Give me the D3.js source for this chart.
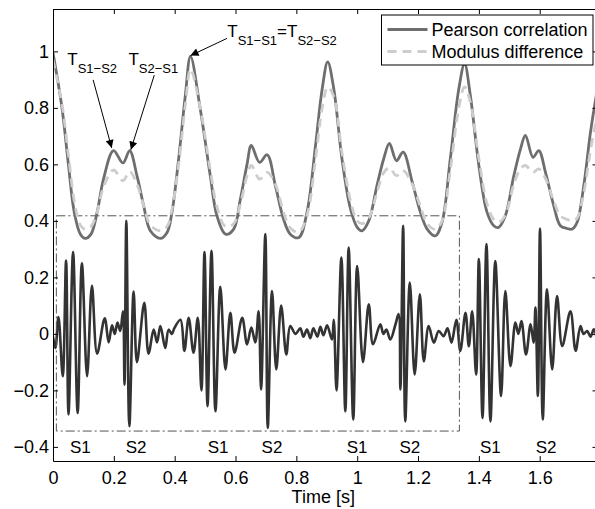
<!DOCTYPE html>
<html>
<head>
<meta charset="utf-8">
<script src="https://cdn.jsdelivr.net/npm/d3@7"></script>
<style>
  body { margin: 0; background: #fff; }
  svg { font-family: "Liberation Sans", Arial, sans-serif; }
</style>
</head>
<body>
<svg></svg>
<script>
// correlation curves, sampled where the shape changes
var curveTime = [0, 0.030, 0.051, 0.070, 0.090, 0.106, 0.125, 0.145, 0.166, 0.199, 0.230, 0.252, 0.276, 0.298,
  0.320, 0.353, 0.375, 0.391, 0.413, 0.435, 0.452, 0.484, 0.517, 0.539, 0.567, 0.594, 0.616, 0.638, 0.652,
  0.679, 0.704, 0.731, 0.758, 0.780, 0.808, 0.835, 0.863, 0.885, 0.903, 0.923, 0.950, 0.978, 1.000, 1.016,
  1.038, 1.065, 1.087, 1.106, 1.129, 1.151, 1.181, 1.208, 1.230, 1.257, 1.279, 1.306, 1.334, 1.353, 1.372,
  1.400, 1.427, 1.449, 1.465, 1.487, 1.515, 1.537, 1.553, 1.578, 1.597, 1.619, 1.646, 1.668, 1.690, 1.707,
  1.723, 1.745, 1.767, 1.790];
var pearson = [0.995, 0.796, 0.596, 0.43, 0.353, 0.338, 0.353, 0.43, 0.548, 0.649, 0.605, 0.649, 0.56, 0.454,
  0.365, 0.338, 0.359, 0.43, 0.619, 0.844, 0.982, 0.797, 0.56, 0.418, 0.353, 0.371, 0.477, 0.601, 0.667,
  0.607, 0.634, 0.525, 0.406, 0.353, 0.341, 0.43, 0.667, 0.868, 0.963, 0.868, 0.619, 0.442, 0.377, 0.365,
  0.40, 0.525, 0.619, 0.674, 0.613, 0.643, 0.537, 0.43, 0.371, 0.347, 0.395, 0.619, 0.867, 0.956, 0.844,
  0.596, 0.43, 0.383, 0.377, 0.418, 0.56, 0.655, 0.703, 0.625, 0.649, 0.572, 0.454, 0.383, 0.373, 0.371,
  0.395, 0.525, 0.714, 0.87];
var modulus = [0.97, 0.81, 0.63, 0.47, 0.385, 0.37, 0.38, 0.43, 0.52, 0.58, 0.542, 0.575, 0.53, 0.455,
  0.385, 0.365, 0.38, 0.44, 0.60, 0.81, 0.937, 0.80, 0.58, 0.45, 0.38, 0.39, 0.46, 0.56, 0.596,
  0.548, 0.572, 0.53, 0.43, 0.375, 0.36, 0.42, 0.62, 0.80, 0.874, 0.84, 0.64, 0.47, 0.40, 0.39,
  0.41, 0.50, 0.57, 0.588, 0.56, 0.578, 0.53, 0.45, 0.39, 0.37, 0.40, 0.58, 0.80, 0.874, 0.82,
  0.62, 0.46, 0.405, 0.395, 0.42, 0.53, 0.585, 0.596, 0.572, 0.584, 0.55, 0.47, 0.418, 0.405, 0.40,
  0.41, 0.50, 0.65, 0.78];

// heart sound signal, peaks and troughs
var sigTime = [0, 0.008, 0.018, 0.032, 0.043, 0.051, 0.066, 0.081, 0.095, 0.112, 0.128, 0.145, 0.170, 0.183,
  0.194, 0.203, 0.212, 0.221, 0.230, 0.235, 0.241, 0.251, 0.265, 0.276, 0.300, 0.314, 0.331, 0.342, 0.353,
  0.369, 0.380, 0.391, 0.399, 0.419, 0.432, 0.446, 0.462, 0.476, 0.488, 0.498, 0.508, 0.521, 0.534, 0.550,
  0.567, 0.583, 0.597, 0.622, 0.638, 0.652, 0.665, 0.676, 0.684, 0.698, 0.706, 0.720, 0.734, 0.750, 0.767,
  0.780, 0.797, 0.813, 0.823, 0.835, 0.846, 0.856, 0.869, 0.879, 0.889, 0.901, 0.917, 0.923, 0.932, 0.948,
  0.961, 0.972, 0.987, 1.000, 1.019, 1.038, 1.052, 1.076, 1.086, 1.096, 1.109, 1.126, 1.136, 1.142, 1.151,
  1.158, 1.173, 1.189, 1.206, 1.219, 1.235, 1.252, 1.268, 1.284, 1.297, 1.310, 1.326, 1.339, 1.356, 1.367,
  1.378, 1.391, 1.400, 1.412, 1.425, 1.438, 1.454, 1.473, 1.487, 1.504, 1.520, 1.530, 1.540, 1.555, 1.570,
  1.580, 1.586, 1.594, 1.601, 1.610, 1.624, 1.641, 1.657, 1.674, 1.701, 1.718, 1.734, 1.744, 1.756, 1.767,
  1.778, 1.790];
var sigValue = [-0.01, -0.05, 0.06, -0.15, 0.26, -0.285, 0.29, -0.28, 0.25, -0.15, 0.17, -0.07, 0.055, -0.03,
  0.03, 0.0, 0.04, 0.01, 0.08, -0.18, 0.40, -0.327, 0.15, -0.10, 0.11, -0.07, 0.015, -0.03, 0.028,
  -0.05, 0.015, 0.0, 0.02, 0.05, -0.06, 0.057, -0.067, 0.057, -0.2, 0.29, -0.256, 0.294, -0.274, 0.167,
  -0.126, 0.075, -0.067, 0.057, -0.037, 0.022, -0.03, 0.08, -0.197, 0.353, -0.333, 0.152, -0.126, 0.10, -0.073,
  0.028, 0.0, 0.02, -0.01, 0.015, -0.015, 0.02, -0.01, 0.025, -0.005, 0.03, -0.02, 0.05, -0.2, 0.27,
  -0.274, 0.306, -0.303, 0.24, -0.10, 0.105, -0.037, 0.034, 0.0, 0.015, -0.02, 0.034, 0.07, -0.197, 0.383,
  -0.31, 0.182, -0.144, 0.14, -0.097, 0.028, -0.031, 0.01, -0.008, 0.02, -0.031, 0.05, -0.06, 0.075, -0.044,
  0.08, -0.144, 0.265, -0.298, 0.318, -0.31, 0.258, -0.22, 0.152, -0.114, 0.04, 0.0, 0.045, -0.073, 0.034,
  -0.031, 0.093, -0.22, 0.373, -0.303, 0.158, -0.126, 0.134, -0.043, 0.08, -0.06, 0.028, 0.0, 0.01, -0.01,
  0.016, -0.037];

var soundLabels = ["S1", "S2", "S1", "S2", "S1", "S2", "S1", "S2"];
var soundTimes = [0.090, 0.273, 0.543, 0.720, 1.000, 1.173, 1.438, 1.621];
var xTicks = [0, 0.2, 0.4, 0.6, 0.8, 1, 1.2, 1.4, 1.6];
var yTicks = [-0.4, -0.2, 0, 0.2, 0.4, 0.6, 0.8, 1];
var seriesNames = ["Pearson correlation", "Modulus difference"];

var svgWidth = 595, svgHeight = 509;
var margin = { top: 9, right: -2.5, bottom: 48, left: 53 };
var width = svgWidth - margin.left - margin.right;
var height = svgHeight - margin.top - margin.bottom;
var fmt = d3.format("~g");

var svg = d3.select("svg")
  .attr("width", svgWidth)
  .attr("height", svgHeight);

var defs = svg.append("defs");
defs.append("clipPath").attr("id", "plot")
  .append("rect").attr("width", width).attr("height", height);
defs.append("marker")
  .attr("id", "head")
  .attr("viewBox", "0 0 10 10")
  .attr("refX", 10).attr("refY", 5)
  .attr("markerWidth", 12).attr("markerHeight", 8)
  .attr("markerUnits", "userSpaceOnUse")
  .attr("orient", "auto")
  .append("path").attr("d", "M0,0L10,5L0,10z").attr("fill", "#000");

var g = svg.append("g")
  .attr("transform", "translate(" + margin.left + "," + margin.top + ")");

var x = d3.scaleLinear().domain([0, 1.79]).range([0, width]);
var y = d3.scaleLinear().domain([-0.45, 1.15]).range([height, 0]);

var plot = g.append("g").attr("clip-path", "url(#plot)");

var curveData = curveTime.map(function(t, i) { return { t: t, p: pearson[i], m: modulus[i] }; });
var sigData = sigTime.map(function(t, i) { return { t: t, v: sigValue[i] }; });

// signal
plot.append("path")
  .datum(sigData)
  .attr("fill", "none")
  .attr("stroke", "#333")
  .attr("stroke-width", 2.6)
  .attr("stroke-linejoin", "round")
  .attr("d", d3.line()
    .x(function(d) { return x(d.t); })
    .y(function(d) { return y(d.v); })
    .curve(d3.curveCatmullRom.alpha(0.5)));

// dash-dot window
plot.append("rect")
  .attr("x", x(0.011))
  .attr("y", y(0.418))
  .attr("width", x(1.336) - x(0.011))
  .attr("height", y(-0.344) - y(0.418))
  .attr("fill", "none")
  .attr("stroke", "#555")
  .attr("stroke-width", 1)
  .attr("stroke-dasharray", "9,3,2,3");

plot.append("path")
  .datum(curveData)
  .attr("fill", "none")
  .attr("stroke", "#6e6e6e")
  .attr("stroke-width", 2.8)
  .attr("d", d3.line()
    .x(function(d) { return x(d.t); })
    .y(function(d) { return y(d.p); })
    .curve(d3.curveCatmullRom.alpha(0.5)));

plot.append("path")
  .datum(curveData)
  .attr("fill", "none")
  .attr("stroke", "#cdcdcd")
  .attr("stroke-width", 2.8)
  .attr("stroke-dasharray", "9,6")
  .attr("d", d3.line()
    .x(function(d) { return x(d.t); })
    .y(function(d) { return y(d.m); })
    .curve(d3.curveCatmullRom.alpha(0.5)));

// axes, ticks inward on all four sides
g.append("g")
  .attr("transform", "translate(0," + height + ")")
  .call(d3.axisBottom(x).tickValues(xTicks).tickFormat(fmt).tickSizeInner(-5).tickSizeOuter(0).tickPadding(10));
g.append("g")
  .call(d3.axisTop(x).tickValues(xTicks).tickSizeInner(-5).tickSizeOuter(0).tickFormat(""));
g.append("g")
  .call(d3.axisLeft(y).tickValues(yTicks).tickFormat(fmt).tickSizeInner(-5).tickSizeOuter(0).tickPadding(4));
g.append("g")
  .attr("transform", "translate(" + width + ",0)")
  .call(d3.axisRight(y).tickValues(yTicks).tickSizeInner(-5).tickSizeOuter(0).tickFormat(""));

g.selectAll(".tick text")
  .attr("font-size", 18)
  .attr("font-family", "Liberation Sans, Arial, sans-serif")
  .attr("fill", "#000");
g.selectAll(".domain").attr("stroke", "#000");
g.selectAll(".tick line").attr("stroke", "#000");

g.append("text")
  .attr("x", width / 2 - 2)
  .attr("y", height + 42)
  .attr("text-anchor", "middle")
  .attr("font-size", 18)
  .text("Time [s]");

// S1 / S2 labels
g.selectAll(".sound")
  .data(soundTimes)
  .enter().append("text")
  .attr("class", "sound")
  .attr("x", function(d) { return x(d); })
  .attr("y", y(-0.4))
  .attr("dy", "0.35em")
  .attr("text-anchor", "middle")
  .attr("font-size", 17)
  .text(function(d, i) { return soundLabels[i]; });

// annotations
function tLabel(t, v, parts) {
  var txt = g.append("text")
    .attr("x", x(t))
    .attr("y", y(v))
    .attr("font-size", 17);
  parts.forEach(function(p) {
    if (p.sub) {
      txt.append("tspan").attr("font-size", 13).attr("dy", 8).text(p.s);
    } else {
      txt.append("tspan").attr("font-size", 17).attr("dy", p.first ? 0 : -8).text(p.s);
    }
  });
}
tLabel(0.047, 0.952, [{ s: "T", first: true }, { s: "S1\u2212S2", sub: true }]);
tLabel(0.248, 0.952, [{ s: "T", first: true }, { s: "S2\u2212S1", sub: true }]);
tLabel(0.573, 1.051, [{ s: "T", first: true }, { s: "S1\u2212S1", sub: true }, { s: "=T" }, { s: "S2\u2212S2", sub: true }]);

var arrows = [
  [0.132, 0.899, 0.193, 0.658],
  [0.333, 0.916, 0.256, 0.652],
  [0.572, 1.046, 0.452, 0.985]
];
g.selectAll(".arrow")
  .data(arrows)
  .enter().append("line")
  .attr("class", "arrow")
  .attr("x1", function(d) { return x(d[0]); })
  .attr("y1", function(d) { return y(d[1]); })
  .attr("x2", function(d) { return x(d[2]); })
  .attr("y2", function(d) { return y(d[3]); })
  .attr("stroke", "#000")
  .attr("stroke-width", 1)
  .attr("marker-end", "url(#head)");

// legend
var legend = svg.append("g").attr("transform", "translate(381.5,15)");
legend.append("rect")
  .attr("width", 211.5)
  .attr("height", 50)
  .attr("fill", "#fff")
  .attr("stroke", "#000")
  .attr("stroke-width", 1);
legend.selectAll("line.key")
  .data(seriesNames)
  .enter().append("line")
  .attr("class", "key")
  .attr("x1", 6).attr("x2", 46)
  .attr("y1", function(d, i) { return 14.5 + i * 22; })
  .attr("y2", function(d, i) { return 14.5 + i * 22; })
  .attr("stroke", function(d, i) { return i == 0 ? "#6e6e6e" : "#cdcdcd"; })
  .attr("stroke-width", 2.8)
  .attr("stroke-dasharray", function(d, i) { return i == 0 ? null : "9,6"; });
legend.selectAll("text")
  .data(seriesNames)
  .enter().append("text")
  .attr("x", 50)
  .attr("y", function(d, i) { return 20.5 + i * 22; })
  .attr("font-size", 18)
  .text(function(d) { return d; });
</script>
</body>
</html>
